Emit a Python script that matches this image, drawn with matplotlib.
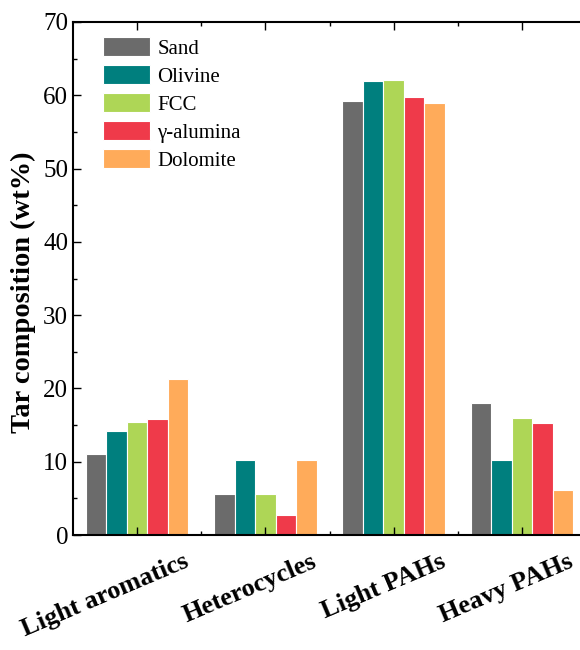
import numpy as np
import matplotlib
matplotlib.use("Agg")
import matplotlib.pyplot as plt
from matplotlib.ticker import MultipleLocator
from matplotlib.transforms import ScaledTranslation

# Tar composition by bed material (wt%)
categories = ["Light aromatics", "Heterocycles", "Light PAHs", "Heavy PAHs"]
materials = ["Sand", "Olivine", "FCC", "\u03b3-alumina", "Dolomite"]
sand = [11.0, 5.6, 59.2, 18.0]
olivine = [14.2, 10.3, 62.0, 10.2]
fcc = [15.4, 5.6, 62.1, 16.0]
alumina = [15.8, 2.7, 59.7, 15.3]
dolomite = [21.3, 10.2, 58.9, 6.1]
series = [sand, olivine, fcc, alumina, dolomite]
colors = ["#6b6b6b", "#007f7e", "#aed656", "#ef3a4a", "#ffab5a"]

plt.rcParams["font.family"] = ["Liberation Serif", "DejaVu Serif"]

fig = plt.figure(figsize=(5.8, 6.5), dpi=100)
ax = fig.add_axes([73 / 580, 115 / 650, 513 / 580, 513 / 650])

x = np.arange(len(categories))
width = 0.16
for i, (vals, col, name) in enumerate(zip(series, colors, materials)):
    ax.bar(x + (i - 2) * width, vals, width, color=col, label=name,
           edgecolor="white", linewidth=0.8)

ax.set_xlim(-0.5, 3.5)
ax.set_ylim(0, 70)
ax.yaxis.set_major_locator(MultipleLocator(10))
ax.yaxis.set_minor_locator(MultipleLocator(5))
ax.set_xticks(x)
ax.set_xticks(x + 0.5, minor=True)
ax.set_xticklabels([])
ax.tick_params(which="both", direction="in", top=True, right=False,
               width=1.0, labelsize=18)
ax.tick_params(which="major", length=6)
ax.tick_params(which="minor", length=3)
for side in ["left", "bottom", "top"]:
    ax.spines[side].set_linewidth(1.5)
ax.spines["right"].set_visible(False)

# Rotated category labels below the axis
offset = ScaledTranslation(46 / 100, -15 / 100, fig.dpi_scale_trans)
for xi, lab in zip(x, categories):
    ax.text(xi, 0, lab, transform=ax.get_xaxis_transform() + offset,
            rotation=23, rotation_mode="anchor", ha="right", va="top",
            fontsize=19, fontweight="bold")

ax.set_ylabel("Tar composition (wt%)", fontsize=20.5, fontweight="bold")
ax.yaxis.set_label_coords(-0.072, 0.474)

leg = ax.legend(loc="upper left", bbox_to_anchor=(103 / 580, 1 - 37 / 650),
                bbox_transform=fig.transFigure, frameon=False, fontsize=15,
                handlelength=2.25, handleheight=1.05, handletextpad=0.35,
                labelspacing=0.3, borderpad=0, borderaxespad=0)

fig.savefig("out.png", dpi=100)
